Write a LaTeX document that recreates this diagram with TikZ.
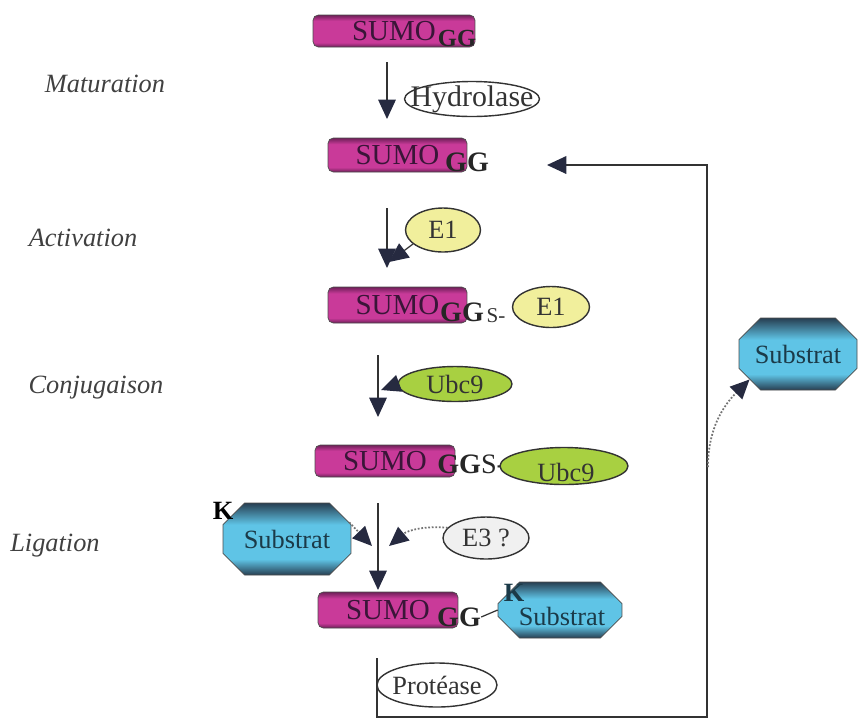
\documentclass[tikz,border=0pt]{standalone}
\usepackage{fontspec}
\setmainfont{Liberation Serif}
\usetikzlibrary{arrows.meta,shapes.geometric,shapes.misc}
\definecolor{sumoC}{HTML}{C93A99}
\definecolor{sumoD}{HTML}{6E1F58}
\definecolor{sumoT}{HTML}{3A1538}
\definecolor{subC}{HTML}{5FC4E6}
\definecolor{subD}{HTML}{273F52}
\definecolor{subT}{HTML}{1B3A48}
\definecolor{eunC}{HTML}{F1EF9C}
\definecolor{ubcC}{HTML}{A8D041}
\definecolor{tipC}{HTML}{262A40}
\pgfdeclareverticalshading{sumoshade}{100bp}{color(0bp)=(sumoD); color(25bp)=(sumoD); color(32bp)=(sumoC); color(66bp)=(sumoC); color(75bp)=(sumoD); color(100bp)=(sumoD)}
\pgfdeclareverticalshading{subshade}{100bp}{color(0bp)=(subD); color(25bp)=(subD); color(36bp)=(subC); color(60bp)=(subC); color(75bp)=(subD); color(100bp)=(subD)}
\begin{document}
\begin{tikzpicture}[x=0.02cm,y=-0.02cm,
	font=\fontsize{15}{18}\selectfont,
	sumo/.style={draw=black!70,rounded corners=3pt,shading=sumoshade,text=sumoT,font=\fontsize{16.5}{18}\selectfont,inner sep=0pt},
	subst/.style={chamfered rectangle,chamfered rectangle sep=7pt,draw=black!70,shading=subshade,text=subT,inner sep=0pt},
	enz/.style={ellipse,draw=black!80,line width=0.8pt,inner xsep=-12pt,inner ysep=-6pt,text=black!80},
	gg/.style={font=\fontsize{16}{18}\selectfont\bfseries,text=black!85,inner sep=0pt},
	stage/.style={font=\fontsize{15}{18}\selectfont\itshape,text=black!75},
	flow/.style={-{Triangle[length=11pt,width=10pt,color=tipC]},black!80,line width=0.7pt},
	hint/.style={densely dotted,black!55,line width=1pt,-{Triangle[length=11pt,width=10pt,color=tipC]}}]
	\useasboundingbox (0,0) rectangle (858,718);
	\node[stage] (mat) at (105,84) {Maturation};
	\node[stage] (act) at (83,238) {Activation};
	\node[stage] (con) at (96,388) {Conjugaison};
	\node[stage] (lig) at (55,546) {Ligation};
	\node[sumo,minimum width=3.24cm,minimum height=0.64cm] (s1) at (394,31) {SUMO};
	\node[gg,font=\fontsize{14}{16}\selectfont\bfseries] (g1) at (457,38) {GG};
	\coordinate (a1) at (387,62);
	\coordinate (b1) at (387,119);
	\draw[flow] (a1) -- (b1);
	\node[enz,fill=white,font=\fontsize{17}{18}\selectfont,minimum width=2.7cm,minimum height=0.7cm] (hyd) at (472,99) {Hydrolase};
	\node[sumo,minimum width=2.78cm,minimum height=0.68cm] (s2) at (397.5,155) {SUMO};
	\node[gg] (g2) at (467,162) {GG};
	\coordinate (a2) at (387,208);
	\coordinate (b2) at (387,268);
	\draw[flow] (a2) -- (b2);
	\node[enz,fill=eunC,minimum width=1.5cm,minimum height=0.88cm] (e1a) at (443,230) {E1};
	\coordinate (k2) at (389,262);
	\draw[flow] (e1a.205) -- (k2);
	\node[sumo,minimum width=2.78cm,minimum height=0.72cm] (s3) at (397.5,305) {SUMO};
	\node[gg] (g3) at (462,312) {GG};
	\node[font=\fontsize{12}{14}\selectfont,inner sep=0pt,text=black!80] (t3) at (496,316) {S-};
	\node[enz,fill=eunC,minimum width=1.54cm,minimum height=0.82cm] (e1b) at (551,307) {E1};
	\coordinate (a3) at (378,355);
	\coordinate (b3) at (378,417);
	\draw[flow] (a3) -- (b3);
	\node[enz,fill=ubcC,minimum width=2.28cm,minimum height=0.7cm] (u1) at (455,384) {Ubc9};
	\coordinate (k3) at (381,390);
	\draw[flow] (u1.west) -- (k3);
	\node[sumo,minimum width=2.8cm,minimum height=0.64cm] (s4) at (385,461) {SUMO};
	\node[gg,anchor=west] (g4) at (437,464) {GG\mdseries S-};
	\node[enz,fill=ubcC,minimum width=2.56cm,minimum height=0.74cm] (u2) at (564,466) {};
	\node[text=black!80] (u2t) at (566,472) {Ubc9};
	\node[subst,minimum width=2.56cm,minimum height=1.44cm] (sb1) at (287,539) {Substrat};
	\node[font=\fontsize{15}{18}\selectfont\bfseries,inner sep=0pt] (k1) at (223,511) {K};
	\coordinate (a4) at (378,503);
	\coordinate (b4) at (378,590);
	\draw[flow] (a4) -- (b4);
	\node[enz,fill=black!6,minimum width=1.72cm,minimum height=0.84cm] (e3) at (486,538) {E3 ?};
	\coordinate (k4a) at (372,546);
	\coordinate (k4b) at (389,546);
	\draw[hint] (sb1.15) -- (k4a);
	\draw[hint] (e3.165) to[out=175,in=40] (k4b);
	\node[sumo,minimum width=2.8cm,minimum height=0.72cm] (s5) at (388,610) {SUMO};
	\node[gg] (g5) at (459,617) {GG};
	\node[subst,minimum width=2.48cm,minimum height=1.12cm] (sb2) at (560,610) {\phantom{Substrat}};
	\node[text=subT] (sb2t) at (562,616) {Substrat};
	\node[font=\fontsize{15}{18}\selectfont\bfseries,inner sep=0pt,text=subT] (k5) at (514,593) {K};
	\draw[black!80,line width=0.7pt] (g5.east) -- (sb2.west);
	\node[enz,fill=white,minimum width=2.4cm,minimum height=0.88cm] (pro) at (437,685) {Protéase};
	\coordinate (r0) at (377,658);
	\coordinate (r1) at (377,717);
	\coordinate (r2) at (707,717);
	\coordinate (r3) at (707,165);
	\coordinate (r4) at (547,165);
	\draw[flow,line width=1pt] (r0) -- (r1) -- (r2) -- (r3) -- (r4);
	\node[subst,minimum width=2.36cm,minimum height=1.44cm] (sb3) at (798,354) {Substrat};
	\coordinate (r5) at (708,467);
	\draw[hint] (r5) to[out=90,in=-135] (sb3.south west);
\end{tikzpicture}
\end{document}
